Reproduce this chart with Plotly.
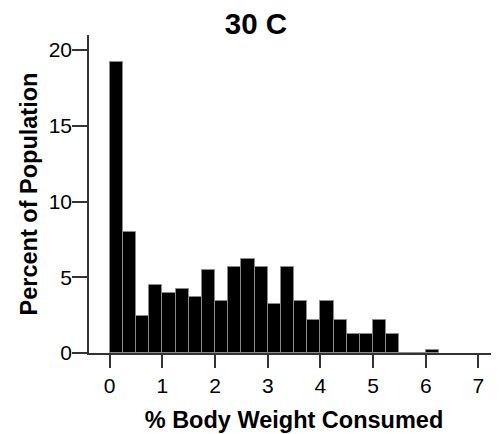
import plotly.graph_objects as go

# Histogram bins (left edges, width 0.25) and percent of population
bin_left_edges = [0.00, 0.25, 0.50, 0.75, 1.00, 1.25, 1.50, 1.75, 2.00, 2.25,
                  2.50, 2.75, 3.00, 3.25, 3.50, 3.75, 4.00, 4.25, 4.50, 4.75,
                  5.00, 5.25, 5.50, 5.75, 6.00]
percent_values = [19.23, 8.00, 2.47, 4.47, 3.96, 4.25, 3.72, 5.48, 3.46, 5.70,
                  6.21, 5.70, 3.22, 5.70, 3.46, 2.20, 3.46, 2.20, 1.23, 1.23,
                  2.20, 1.23, 0.00, 0.00, 0.22]
bin_width = 0.25

x_tick_values = [0, 1, 2, 3, 4, 5, 6, 7]
y_tick_values = [0, 5, 10, 15, 20]

chart_title = "30 C"
x_title = "% Body Weight Consumed"
y_title = "Percent of Population"

FONT = "Liberation Sans, Arial, sans-serif"

# page body has an 8px margin, so the figure is 8px smaller than the window
W, H = 491, 426

fig = go.Figure()
fig.add_trace(go.Bar(
    x=bin_left_edges,
    y=percent_values,
    width=bin_width,
    offset=0,
    marker=dict(color="black", line=dict(color="#8a8a8a", width=1)),
    hoverinfo="x+y",
))

fig.update_layout(
    width=W, height=H,
    margin=dict(l=81, r=0, t=27, b=81),
    paper_bgcolor="white", plot_bgcolor="white",
    showlegend=False,
    bargap=0,
    font=dict(family=FONT, color="black"),
    title=dict(text=chart_title, x=(256 - 8) / W, xref="container", xanchor="center",
               y=1 - (23.5 - 8) / H, yref="container", yanchor="middle",
               font=dict(size=29.5, family=FONT, weight="bold", color="black")),
    xaxis=dict(
        range=[-0.393, 7.39],
        tickvals=x_tick_values,
        ticks="outside", ticklen=13, tickwidth=1.5, tickcolor="#333",
        showline=True, linecolor="#333", linewidth=1.5,
        showgrid=False, zeroline=False,
        tickfont=dict(size=21, family=FONT, color="black"),
        title=dict(text=x_title, standoff=16,
                   font=dict(size=23.5, family=FONT, weight="bold", color="black")),
        automargin=False,
    ),
    yaxis=dict(
        range=[0, 21],
        tickvals=y_tick_values,
        ticks="outside", ticklen=15, tickwidth=1.5, tickcolor="#333",
        showline=True, linecolor="#333", linewidth=1.5,
        showgrid=False, zeroline=False,
        ticklabelstandoff=-4,
        tickfont=dict(size=21, family=FONT, color="black"),
        title=dict(text=y_title, standoff=4,
                   font=dict(size=23.5, family=FONT, weight="bold", color="black")),
        automargin=False,
    ),
)

fig.write_html("out.html")
